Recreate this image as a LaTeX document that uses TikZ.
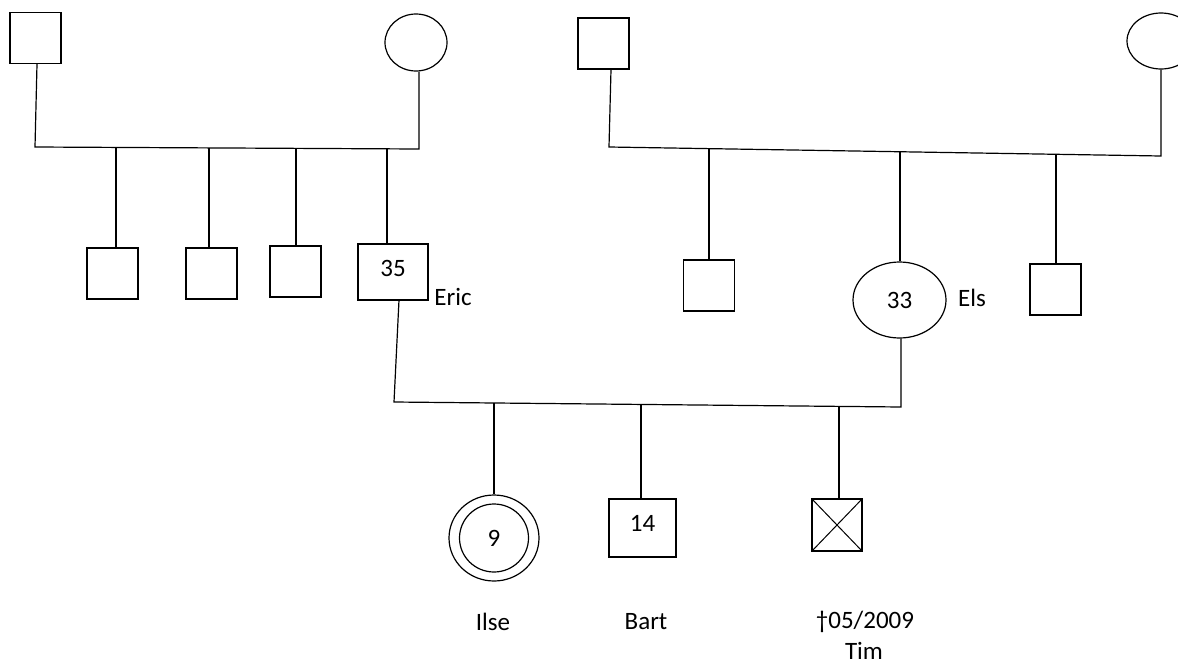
\documentclass[tikz,border=0pt]{standalone}
\usepackage{fontspec}
\setmainfont{Carlito}
\usetikzlibrary{shapes.geometric}
\begin{document}
\begin{tikzpicture}[x=1pt,y=-1pt,
  line width=1.2pt,
  male/.style={draw,rectangle,minimum width=51pt,minimum height=51pt,inner sep=0pt},
  female/.style={draw,ellipse,inner sep=0pt},
  txt/.style={inner sep=0pt,font=\fontsize{25}{28}\selectfont},
  every label/.style={inner sep=0pt,font=\fontsize{25}{28}\selectfont}]
\useasboundingbox (0,0) rectangle (1178,664);
\begin{scope}
\clip (0,0) rectangle (1178,664);
% generation 1
\node[male] (gf1) at (35.5,38) {};
\node[female,minimum width=62pt,minimum height=57pt] (gm1) at (416,42.5) {};
\node[male] (gf2) at (603.5,43.5) {};
\node[female,minimum width=68pt,minimum height=56pt] (gm2) at (1161,41) {};
% generation 2
\node[male] (s1) at (112.5,273.5) {};
\node[male] (s2) at (211.5,273.5) {};
\node[male] (s3) at (295.5,271.5) {};
\node[male,minimum width=70pt,minimum height=56pt,label={[yshift=4pt]center:35}] (eric) at (393,272) {};
\node[male] (r1) at (709,285.5) {};
\node[female,minimum width=93pt,minimum height=76pt,label={center:33}] (els) at (899.5,300) {};
\node[male] (r3) at (1055.5,289.5) {};
% generation 3
\node[female,minimum width=90pt,minimum height=86pt] (ilse) at (494,538) {};
\node[female,minimum width=69pt,minimum height=68pt,label={center:9}] (ilsein) at (494,538) {};
\node[male,minimum width=67pt,minimum height=58pt,label={[yshift=5pt]center:14}] (bart) at (642.5,528) {};
\node[male,minimum width=50pt,minimum height=52pt] (tim) at (837,525) {};
\draw[line width=1pt] (tim.north west) -- (tim.south east) (tim.north east) -- (tim.south west);
% text labels
\node[txt] (teric) at (453,297) {Eric};
\node[txt] (tels) at (972,298) {Els};
\node[txt] (tilse) at (493,622) {Ilse};
\node[txt] (tbart) at (646,622) {Bart};
\node[txt] (tdate) at (865,622) {†05/2009};
\node[txt] (ttim) at (864,651) {Tim};
% marriage lines
\coordinate (m1a) at (35,147);
\coordinate (m1b) at (419,149);
\draw (gf1.south) ++(1.5,0) -- (m1a) -- (m1b) -- (gm1.south -| m1b);
\coordinate (m2a) at (609,147);
\coordinate (m2b) at (1161,156);
\draw (611,69.5) -- (m2a) -- (m2b) -- (gm2.south);
\coordinate (m3a) at (394,402);
\coordinate (m3b) at (901,407);
\draw (399,300) -- (m3a) -- (m3b) -- (els.south -| m3b);
% sibling drops
\coordinate (d1) at (116,148);
\coordinate (d2) at (209,148);
\coordinate (d3) at (296,148.5);
\coordinate (d4) at (387,149);
\draw (d1) -- (d1 |- s1.north);
\draw (d2) -- (d2 |- s2.north);
\draw (d3) -- (d3 |- s3.north);
\draw (d4) -- (d4 |- eric.north);
\coordinate (e1) at (709,148.6);
\coordinate (e2) at (900,151.7);
\coordinate (e3) at (1056,154.3);
\draw (e1) -- (e1 |- r1.north);
\draw (e2) -- (e2 |- els.north);
\draw (e3) -- (e3 |- r3.north);
\coordinate (k1) at (494,403);
\coordinate (k2) at (641,404.5);
\coordinate (k3) at (839,406);
\draw (k1) -- (ilse.north);
\draw (k2) -- (k2 |- bart.north);
\draw (k3) -- (k3 |- tim.north);
\end{scope}
\end{tikzpicture}
\end{document}
